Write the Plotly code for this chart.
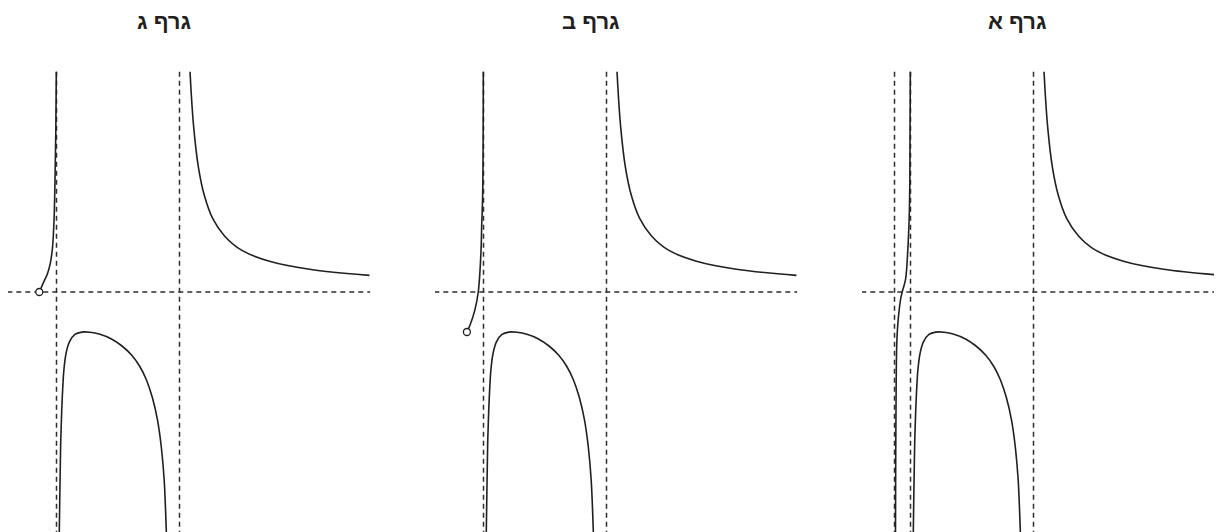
import plotly.graph_objects as go

# panel titles, left to right
titles = ["גרף ג", "גרף ב", "גרף א"]

# asymptotes (same units in each panel)
asym_v = [0.0, 2.0]
asym_v_extra_a = -0.26
asym_h = 0.0
h_line_x = [-0.80, 5.10]
v_line_y = [3.58, -4.0]

# branch right of x=2 (all panels)
right_x = [2.171, 2.228, 2.309, 2.407, 2.537, 2.732, 3.008, 3.463, 4.114, 5.089]
right_y = [3.58, 2.71, 2.02, 1.56, 1.20, 0.91, 0.68, 0.50, 0.37, 0.27]

# branch between the asymptotes (all panels)
mid_x = [0.044, 0.046, 0.057, 0.068, 0.085, 0.10, 0.12, 0.155, 0.21, 0.30, 0.41, 0.545, 0.707,
         0.894, 1.065, 1.220, 1.350, 1.463, 1.561, 1.642, 1.704, 1.751, 1.785, 1.79]
mid_y = [-4.0, -3.87, -3.11, -2.46, -1.92, -1.59, -1.27, -1.00, -0.81, -0.69, -0.652, -0.655, -0.688,
         -0.764, -0.878, -1.024, -1.203, -1.431, -1.724, -2.081, -2.520, -3.057, -3.87, -4.0]

# left branches
left_c_x = [-0.28, -0.20, -0.15, -0.10, -0.065, -0.04, -0.024, -0.011, -0.003]
left_c_y = [0.0, 0.18, 0.29, 0.47, 0.72, 1.17, 1.82, 2.63, 3.58]
hole_c = (-0.28, 0.0)

left_b_x = [-0.27, -0.22, -0.14, -0.085, -0.04, -0.03, -0.013, -0.003]
left_b_y = [-0.65, -0.54, -0.29, 0.0, 0.68, 1.06, 1.61, 3.58]
hole_b = (-0.27, -0.65)

left_a_x = [-0.245, -0.244, -0.233, -0.216, -0.163, -0.135, -0.081, -0.044, -0.021, -0.011, -0.003]
left_a_y = [-4.0, -3.90, -1.48, -0.67, -0.13, 0.0, 0.20, 0.68, 1.22, 1.77, 3.58]

W, H = 1222, 532
shift = 8  # page body margin
unit = 61.5
origin_px = [56.5 - shift, 483.5 - shift, 910.5 - shift]
y0_px = 292 - shift

fig = go.Figure()
curve = dict(color="#231f20", width=1.6)
dash = dict(color="#2e2e2e", width=1.5, dash="5px,4px")

lefts = [(left_c_x, left_c_y), (left_b_x, left_b_y), (left_a_x, left_a_y)]
holes = [hole_c, hole_b, None]

for i in range(3):
    xa = "x" if i == 0 else f"x{i + 1}"
    # dashed asymptotes
    fig.add_trace(go.Scatter(x=h_line_x, y=[asym_h, asym_h], xaxis=xa, mode="lines", line=dash))
    vs = list(asym_v) + ([asym_v_extra_a] if i == 2 else [])
    for v in vs:
        fig.add_trace(go.Scatter(x=[v, v], y=v_line_y, xaxis=xa, mode="lines", line=dash))
    # curves
    lx, ly = lefts[i]
    for cx, cy in [(lx, ly), (mid_x, mid_y), (right_x, right_y)]:
        fig.add_trace(go.Scatter(x=cx, y=cy, xaxis=xa, mode="lines",
                                 line=dict(curve, shape="spline", smoothing=1.0)))
    if holes[i]:
        fig.add_trace(go.Scatter(x=[holes[i][0]], y=[holes[i][1]], xaxis=xa, mode="markers",
                                 marker=dict(size=7, color="white", line=dict(color="#231f20", width=1.3))))
    fig.add_annotation(text="<b>" + titles[i] + "</b>", x=1.74, xref=xa,
                       y=1 - (22 - shift) / H, yref="paper", yanchor="middle",
                       showarrow=False, font=dict(family="Liberation Sans", size=22, color="#231f20"))

ax = dict(visible=False, showgrid=False, zeroline=False)
for i in range(3):
    left_px = 427 * i
    right_px = min(427 * (i + 1), W)
    xr = [(left_px - origin_px[i]) / unit, (right_px - origin_px[i]) / unit]
    key = "xaxis" if i == 0 else f"xaxis{i + 1}"
    fig.update_layout({key: dict(ax, domain=[left_px / W, right_px / W], range=xr, anchor="y")})

fig.update_layout(
    width=W, height=H,
    margin=dict(l=0, r=0, t=0, b=0),
    paper_bgcolor="white", plot_bgcolor="white",
    showlegend=False,
    yaxis=dict(ax, range=[(y0_px - H) / unit, y0_px / unit]),
)
fig.write_html("out.html")
